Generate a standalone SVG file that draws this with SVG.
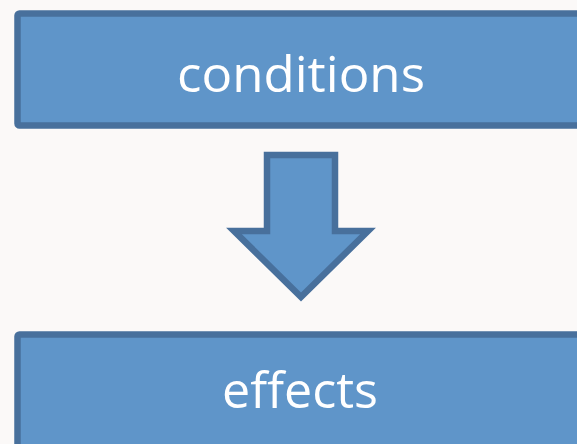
<svg xmlns="http://www.w3.org/2000/svg" width="577" height="444" viewBox="0 0 577 444">
<style>
.box{fill:#5f95c9;stroke:#48709c;stroke-width:6.5;stroke-linejoin:round}
.lbl{fill:#ffffff;font-family:"Open Sans","Liberation Sans",sans-serif;font-size:50px;text-anchor:middle}
</style>
<rect width="577" height="444" fill="#fbf9f8"/>
<g id="conditions">
<rect class="box" x="17.5" y="13.5" width="580" height="112" rx="2"/>
<text class="lbl" x="301" y="92" textLength="248" lengthAdjust="spacingAndGlyphs">conditions</text>
</g>
<g id="connectors">
<polygon class="box" style="stroke-linejoin:miter" points="267,155 335,155 335,231 368,231 301,297 234,231 267,231"/>
</g>
<g id="effects">
<rect class="box" x="17.5" y="334.5" width="580" height="130" rx="2"/>
<text class="lbl" x="300" y="408" textLength="156" lengthAdjust="spacingAndGlyphs">effects</text>
</g>
</svg>
